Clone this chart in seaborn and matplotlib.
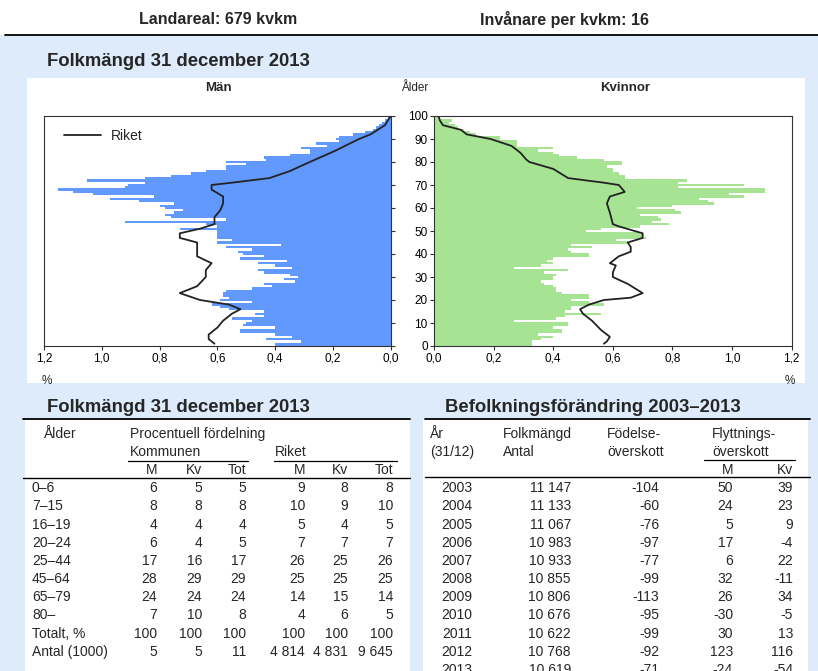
import numpy as np
import pandas as pd
import matplotlib
matplotlib.use("Agg")
import matplotlib.pyplot as plt
from matplotlib.patches import Rectangle
from matplotlib.lines import Line2D
import seaborn as sns

# ---------------- data ----------------
ages = list(range(0, 101))
men_pct = [0.40, 0.40, 0.31, 0.43, 0.34, 0.40, 0.52, 0.52, 0.40, 0.51,
           0.50, 0.48, 0.55, 0.44, 0.47, 0.44, 0.56, 0.59, 0.62, 0.48,
           0.59, 0.56, 0.58, 0.58, 0.57, 0.48, 0.41, 0.44, 0.33, 0.37,
           0.32, 0.35, 0.44, 0.46, 0.34, 0.40, 0.46, 0.36, 0.52, 0.44,
           0.51, 0.53, 0.48, 0.57, 0.38, 0.60, 0.55, 0.60, 0.60, 0.60,
           0.60, 0.73, 0.60, 0.64, 0.92, 0.57, 0.76, 0.78, 0.75, 0.72,
           0.78, 0.80, 0.75, 0.87, 0.97, 0.82, 1.03, 1.10, 1.15, 0.92,
           0.91, 0.85, 1.05, 0.85, 0.76, 0.69, 0.64, 0.57, 0.57, 0.50,
           0.57, 0.43, 0.44, 0.35, 0.28, 0.28, 0.31, 0.22, 0.26, 0.18,
           0.19, 0.18, 0.13, 0.09, 0.06, 0.05, 0.04, 0.03, 0.02, 0.01,
           0.005]
women_pct = [0.33, 0.33, 0.33, 0.36, 0.40, 0.35, 0.43, 0.43, 0.40, 0.45,
             0.45, 0.27, 0.41, 0.44, 0.56, 0.44, 0.46, 0.46, 0.57, 0.52,
             0.46, 0.52, 0.52, 0.43, 0.41, 0.41, 0.40, 0.37, 0.36, 0.40,
             0.40, 0.41, 0.37, 0.45, 0.27, 0.36, 0.40, 0.38, 0.40, 0.52,
             0.52, 0.46, 0.45, 0.53, 0.46, 0.65, 0.61, 0.71, 0.70, 0.69,
             0.51, 0.56, 0.69, 0.79, 0.73, 0.76, 0.75, 0.69, 0.83, 0.81,
             0.68, 0.80, 0.94, 0.92, 0.89, 1.04, 0.99, 1.11, 1.11, 0.82,
             1.04, 0.82, 0.85, 0.64, 0.64, 0.62, 0.60, 0.60, 0.58, 0.63,
             0.63, 0.57, 0.48, 0.42, 0.40, 0.35, 0.40, 0.28, 0.28, 0.28,
             0.22, 0.22, 0.14, 0.12, 0.10, 0.08, 0.07, 0.05, 0.06, 0.02,
             0.03]

riket_m_ages = [1, 3, 5, 8, 11, 14, 16, 18, 20, 23, 26, 30, 33, 36, 39, 42,
                45, 47, 49, 51, 53, 56, 59, 62, 65, 68, 70, 71, 73, 76, 80,
                85, 90, 92, 96, 100]
riket_m_vals = [0.61, 0.63, 0.63, 0.60, 0.58, 0.55, 0.52, 0.56, 0.66, 0.73,
                0.67, 0.64, 0.64, 0.62, 0.67, 0.67, 0.67, 0.73, 0.73, 0.66,
                0.61, 0.61, 0.59, 0.58, 0.58, 0.62, 0.62, 0.55, 0.42, 0.35,
                0.28, 0.19, 0.11, 0.07, 0.02, 0.0]
riket_k_ages = [1, 2, 4, 7, 11, 14, 16, 18, 20, 21, 23, 27, 30, 32, 35, 36,
                39, 41, 43, 45, 47, 49, 52, 53, 58, 62, 65, 67, 70, 71, 73,
                77, 80, 81, 84, 87, 90, 92, 94, 96, 98, 100]
riket_k_vals = [0.57, 0.58, 0.59, 0.56, 0.53, 0.50, 0.49, 0.52, 0.57, 0.66,
                0.70, 0.65, 0.60, 0.60, 0.61, 0.59, 0.62, 0.66, 0.66, 0.65,
                0.70, 0.70, 0.62, 0.60, 0.59, 0.58, 0.59, 0.64, 0.62, 0.57,
                0.45, 0.40, 0.32, 0.31, 0.29, 0.26, 0.19, 0.11, 0.09, 0.03,
                0.02, 0.015]

x_ticks = [0.0, 0.2, 0.4, 0.6, 0.8, 1.0, 1.2]
x_tick_labels = ["0,0", "0,2", "0,4", "0,6", "0,8", "1,0", "1,2"]
age_ticks = list(range(0, 101, 10))

# table 1
age_groups = ["0–6", "7–15", "16–19", "20–24", "25–44", "45–64", "65–79",
              "80–", "Totalt, %", "Antal (1000)"]
kom_m = ["6", "8", "4", "6", "17", "28", "24", "7", "100", "5"]
kom_kv = ["5", "8", "4", "4", "16", "29", "24", "10", "100", "5"]
kom_tot = ["5", "8", "4", "5", "17", "29", "24", "8", "100", "11"]
rik_m = ["9", "10", "5", "7", "26", "25", "14", "4", "100", "4 814"]
rik_kv = ["8", "9", "4", "7", "25", "25", "15", "6", "100", "4 831"]
rik_tot = ["8", "10", "5", "7", "26", "25", "14", "5", "100", "9 645"]

# table 2
years = ["2003", "2004", "2005", "2006", "2007", "2008", "2009", "2010",
         "2011", "2012", "2013"]
folkmangd = ["11 147", "11 133", "11 067", "10 983", "10 933", "10 855",
             "10 806", "10 676", "10 622", "10 768", "10 619"]
fodelse = ["-104", "-60", "-76", "-97", "-77", "-99", "-113", "-95", "-99",
           "-92", "-71"]
flytt_m = ["50", "24", "5", "17", "6", "32", "26", "-30", "30", "123", "-24"]
flytt_kv = ["39", "23", "9", "-4", "22", "-11", "34", "-5", "13", "116", "-54"]

# ---------------- style ----------------
sns.set_style("ticks")
plt.rcParams['font.family'] = ['Liberation Sans', 'DejaVu Sans']

W, H = 818, 671
fig = plt.figure(figsize=(W / 100, H / 100), dpi=100)
fig.patch.set_facecolor("white")

def fx(x):
    return x / W

def fy(y):
    return 1 - y / H

BLUE_BG = "#DDEBFB"
MEN_C = "#6299FF"
WOMEN_C = "#A6E494"

# backgrounds
fig.patches.append(Rectangle((fx(0), fy(H)), 1, fy(35) - fy(H), transform=fig.transFigure,
                             facecolor=BLUE_BG, edgecolor="none", zorder=-3))
fig.patches.append(Rectangle((fx(27), fy(383)), fx(805) - fx(27), fy(78) - fy(383),
                             transform=fig.transFigure, facecolor="white", edgecolor="none", zorder=-2))
fig.patches.append(Rectangle((fx(25), fy(H)), fx(410) - fx(25), fy(419) - fy(H),
                             transform=fig.transFigure, facecolor="white", edgecolor="none", zorder=-2))
fig.patches.append(Rectangle((fx(423), fy(H)), fx(808) - fx(423), fy(419) - fy(H),
                             transform=fig.transFigure, facecolor="white", edgecolor="none", zorder=-2))

def hline(x0, x1, y, lw=1.0):
    fig.lines.append(Line2D([fx(x0), fx(x1)], [fy(y), fy(y)], transform=fig.transFigure,
                            color="black", lw=lw, zorder=5))

hline(5, 818, 34.5, 1.3)
hline(23, 410, 419, 1.3)
hline(23, 410, 478, 1.0)
hline(128, 248, 461, 0.9)
hline(274, 397, 461, 0.9)
hline(425, 810, 419, 1.3)
hline(425, 810, 477, 1.0)
hline(704, 795, 460, 0.9)

# top texts
fig.text(fx(218), fy(20), "Landareal: 679 kvkm", ha="center", va="center",
         fontsize=11.5, fontweight="bold")
fig.text(fx(565), fy(20), "Invånare per kvkm: 16", ha="center", va="center",
         fontsize=11.5, fontweight="bold")
fig.text(fx(47), fy(62), "Folkmängd 31 december 2013", ha="left", va="center",
         fontsize=13.3, fontweight="bold")
fig.text(fx(218), fy(88), "Män", ha="center", va="center", fontsize=9.5, fontweight="bold")
fig.text(fx(415), fy(88), "Ålder", ha="center", va="center", fontsize=8.5)
fig.text(fx(625), fy(88), "Kvinnor", ha="center", va="center", fontsize=9.5, fontweight="bold")
fig.text(fx(47), fy(381), "%", ha="center", va="center", fontsize=8.5)
fig.text(fx(790), fy(381), "%", ha="center", va="center", fontsize=8.5)

# ---------------- pyramid ----------------
axL = fig.add_axes([fx(44), fy(346), fx(390.7) - fx(44), fy(116) - fy(346)])
axR = fig.add_axes([fx(434), fy(346), fx(791.7) - fx(434), fy(116) - fy(346)])

dfm = pd.DataFrame({"age": ages, "pct": men_pct})
dfk = pd.DataFrame({"age": ages, "pct": women_pct})
sns.barplot(data=dfm, x="pct", y="age", orient="y", native_scale=True, width=1.0,
            color=MEN_C, saturation=1, linewidth=0, errorbar=None, ax=axL)
sns.barplot(data=dfk, x="pct", y="age", orient="y", native_scale=True, width=1.0,
            color=WOMEN_C, saturation=1, linewidth=0, errorbar=None, ax=axR)

sns.lineplot(x=riket_m_vals, y=riket_m_ages, sort=False, orient="y", estimator=None,
             color="#222222", lw=1.3, ax=axL, label="Riket")
sns.lineplot(x=riket_k_vals, y=riket_k_ages, sort=False, orient="y", estimator=None,
             color="#222222", lw=1.3, ax=axR, legend=False)

for ax in (axL, axR):
    ax.set_ylim(0, 100)
    ax.set_xlabel("")
    ax.set_ylabel("")
    ax.set_facecolor("white")
    for s in ax.spines.values():
        s.set_visible(True)
        s.set_color("#333333")
        s.set_linewidth(0.8)
    ax.set_xticks(x_ticks)
    ax.set_xticklabels(x_tick_labels, fontsize=8.5)
    ax.set_yticks(age_ticks)
    ax.tick_params(axis="both", direction="out", length=3, width=0.8, color="#333333",
                   labelcolor="black", pad=2)

axL.set_xlim(1.2, 0)
axR.set_xlim(0, 1.2)
axL.yaxis.tick_right()
axL.set_yticklabels([])
axR.yaxis.tick_left()
axR.set_yticklabels([str(a) for a in age_ticks], fontsize=8.5)
axR.tick_params(axis="y", pad=1.5)

leg = axL.legend(loc="center left", bbox_to_anchor=(0.058, 0.913), frameon=False,
                 borderpad=0, borderaxespad=0, handlelength=2.65, handletextpad=0.75,
                 fontsize=10)

# ---------------- tables ----------------
FS = 10
fig.text(fx(47), fy(408), "Folkmängd 31 december 2013", ha="left", va="center",
         fontsize=13.3, fontweight="bold")
fig.text(fx(445), fy(408), "Befolkningsförändring 2003–2013", ha="left", va="center",
         fontsize=13.3, fontweight="bold")

def t(x, y, s, ha="left"):
    fig.text(fx(x), fy(y), s, ha=ha, va="center", fontsize=FS)

# table 1 headers
t(44, 434, "Ålder")
t(130, 434, "Procentuell fördelning")
t(130, 452, "Kommunen")
t(275, 452, "Riket")
col_r1 = [157, 202, 246, 305, 348, 393]
for x, s in zip(col_r1, ["M", "Kv", "Tot", "M", "Kv", "Tot"]):
    t(x, 470, s, ha="right")

row0, step = 488.3, 18.16
cols1 = [kom_m, kom_kv, kom_tot, rik_m, rik_kv, rik_tot]
for i, lab in enumerate(age_groups):
    y = row0 + i * step
    t(32, y, lab)
    for x, col in zip(col_r1, cols1):
        t(x, y, col[i], ha="right")

# table 2 headers
t(430, 434, "År")
t(430, 452, "(31/12)")
t(503, 434, "Folkmängd")
t(503, 452, "Antal")
t(607, 434, "Födelse-")
t(607, 452, "överskott")
t(712, 434, "Flyttnings-")
t(712, 452, "överskott")
t(733, 470, "M", ha="right")
t(793, 470, "Kv", ha="right")

col_r2 = [472, 571, 659, 733, 793]
cols2 = [years, folkmangd, fodelse, flytt_m, flytt_kv]
for i in range(len(years)):
    y = row0 + i * step
    for x, col in zip(col_r2, cols2):
        t(x, y, col[i], ha="right")

fig.savefig("out.png", dpi=100)
